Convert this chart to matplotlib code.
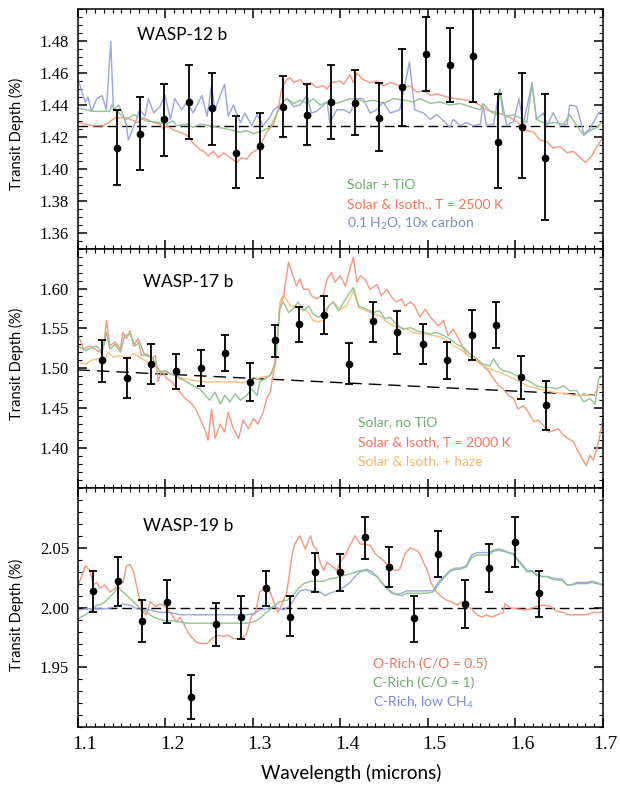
import numpy as np
import matplotlib
matplotlib.use("Agg")
import matplotlib.pyplot as plt
from matplotlib.ticker import MultipleLocator, FormatStrFormatter
from matplotlib.transforms import ScaledTranslation

SANS  = "Lato"
SERIF = "Liberation Serif"
plt.rcParams["font.family"] = SERIF          # números de los ejes en serif
plt.rcParams["mathtext.default"] = "regular"

# ── Datos: WASP-12 b ──────────────────────────────────────────────────────────
w12_x   = [1.145, 1.171, 1.199, 1.227, 1.253, 1.281, 1.308, 1.335, 1.362, 1.390,
           1.417, 1.444, 1.471, 1.498, 1.525, 1.552, 1.580, 1.607, 1.634]
w12_y   = [1.413, 1.422, 1.431, 1.442, 1.438, 1.410, 1.414, 1.439, 1.434, 1.442,
           1.441, 1.432, 1.451, 1.472, 1.465, 1.471, 1.417, 1.426, 1.407]
w12_top = [1.437, 1.445, 1.453, 1.465, 1.460, 1.433, 1.435, 1.458, 1.453, 1.465,
           1.462, 1.454, 1.475, 1.495, 1.488, 1.500, 1.447, 1.460, 1.447]
w12_bot = [1.390, 1.399, 1.408, 1.419, 1.415, 1.388, 1.394, 1.420, 1.415, 1.419,
           1.421, 1.411, 1.427, 1.449, 1.442, 1.442, 1.388, 1.394, 1.368]
w12_flat = 1.427

w12_tio = [(1.101, 1.438), (1.118, 1.436), (1.137, 1.436), (1.139, 1.440), (1.149, 1.434),
           (1.156, 1.431), (1.164, 1.434), (1.179, 1.430), (1.194, 1.429), (1.202, 1.428),
           (1.209, 1.430), (1.213, 1.427), (1.225, 1.428), (1.232, 1.426), (1.240, 1.428),
           (1.251, 1.427), (1.270, 1.425), (1.286, 1.423), (1.293, 1.424), (1.301, 1.422),
           (1.312, 1.424), (1.320, 1.426), (1.328, 1.435), (1.335, 1.442), (1.339, 1.444),
           (1.347, 1.441), (1.354, 1.443), (1.362, 1.441), (1.369, 1.444), (1.377, 1.440),
           (1.385, 1.442), (1.396, 1.441), (1.411, 1.444), (1.423, 1.443), (1.426, 1.442),
           (1.438, 1.443), (1.449, 1.441), (1.461, 1.444), (1.472, 1.443), (1.484, 1.442),
           (1.491, 1.444), (1.503, 1.441), (1.514, 1.442), (1.525, 1.440), (1.537, 1.441),
           (1.548, 1.439), (1.560, 1.437), (1.563, 1.441), (1.571, 1.436), (1.579, 1.434),
           (1.582, 1.449), (1.586, 1.434), (1.590, 1.433), (1.598, 1.434), (1.605, 1.432),
           (1.613, 1.429), (1.619, 1.453), (1.624, 1.431), (1.636, 1.428), (1.643, 1.429),
           (1.655, 1.428), (1.662, 1.434), (1.670, 1.427), (1.678, 1.421), (1.685, 1.424),
           (1.693, 1.426), (1.700, 1.430)]

w12_iso = [(1.100, 1.429), (1.118, 1.427), (1.130, 1.427), (1.143, 1.432), (1.156, 1.432),
           (1.169, 1.429), (1.175, 1.432), (1.187, 1.429), (1.194, 1.428), (1.198, 1.425),
           (1.202, 1.427), (1.211, 1.424), (1.217, 1.423), (1.225, 1.421), (1.232, 1.416),
           (1.240, 1.412), (1.244, 1.411), (1.249, 1.408), (1.255, 1.411), (1.261, 1.407),
           (1.267, 1.410), (1.272, 1.408), (1.282, 1.404), (1.287, 1.407), (1.293, 1.406),
           (1.299, 1.410), (1.305, 1.412), (1.310, 1.416), (1.316, 1.423), (1.324, 1.428),
           (1.329, 1.437), (1.333, 1.450), (1.339, 1.456), (1.343, 1.457), (1.347, 1.454),
           (1.354, 1.456), (1.360, 1.452), (1.366, 1.454), (1.373, 1.451), (1.381, 1.452),
           (1.385, 1.450), (1.390, 1.454), (1.400, 1.455), (1.404, 1.453), (1.411, 1.459),
           (1.415, 1.454), (1.419, 1.460), (1.426, 1.456), (1.434, 1.454), (1.442, 1.455),
           (1.449, 1.452), (1.457, 1.454), (1.464, 1.453), (1.472, 1.451), (1.480, 1.452),
           (1.487, 1.448), (1.495, 1.449), (1.503, 1.446), (1.510, 1.447), (1.522, 1.445),
           (1.533, 1.444), (1.544, 1.443), (1.556, 1.441), (1.567, 1.437), (1.579, 1.435),
           (1.586, 1.434), (1.598, 1.431), (1.605, 1.428), (1.613, 1.424), (1.621, 1.423),
           (1.628, 1.418), (1.636, 1.417), (1.643, 1.413), (1.651, 1.414), (1.659, 1.410),
           (1.666, 1.411), (1.674, 1.407), (1.680, 1.404), (1.687, 1.408), (1.693, 1.414),
           (1.700, 1.420)]

w12_carb = [(1.101, 1.456), (1.105, 1.448), (1.109, 1.442), (1.112, 1.445), (1.116, 1.436),
            (1.122, 1.444), (1.128, 1.446), (1.133, 1.437), (1.138, 1.480), (1.141, 1.437),
            (1.147, 1.440), (1.152, 1.434), (1.156, 1.427), (1.158, 1.418), (1.166, 1.429),
            (1.171, 1.437), (1.177, 1.433), (1.181, 1.444), (1.187, 1.435), (1.194, 1.439),
            (1.200, 1.446), (1.206, 1.431), (1.211, 1.444), (1.219, 1.437), (1.225, 1.442),
            (1.232, 1.435), (1.242, 1.446), (1.248, 1.433), (1.253, 1.452), (1.257, 1.437),
            (1.263, 1.446), (1.268, 1.453), (1.272, 1.433), (1.278, 1.440), (1.286, 1.429),
            (1.291, 1.435), (1.299, 1.427), (1.305, 1.434), (1.312, 1.427), (1.320, 1.433),
            (1.324, 1.437), (1.331, 1.440), (1.339, 1.444), (1.347, 1.439), (1.354, 1.440),
            (1.362, 1.446), (1.367, 1.435), (1.373, 1.436), (1.381, 1.440), (1.385, 1.442),
            (1.388, 1.429), (1.396, 1.437), (1.404, 1.437), (1.411, 1.435), (1.419, 1.444),
            (1.426, 1.444), (1.434, 1.435), (1.442, 1.437), (1.449, 1.442), (1.457, 1.435),
            (1.468, 1.437), (1.479, 1.467), (1.485, 1.437), (1.495, 1.435), (1.503, 1.431),
            (1.510, 1.434), (1.520, 1.429), (1.525, 1.426), (1.529, 1.431), (1.537, 1.427),
            (1.544, 1.429), (1.552, 1.427), (1.560, 1.428), (1.563, 1.440), (1.567, 1.427),
            (1.575, 1.428), (1.582, 1.450), (1.590, 1.427), (1.598, 1.430), (1.604, 1.444),
            (1.609, 1.428), (1.619, 1.454), (1.624, 1.431), (1.632, 1.435), (1.636, 1.427),
            (1.643, 1.435), (1.651, 1.427), (1.659, 1.428), (1.662, 1.440), (1.670, 1.439),
            (1.678, 1.422), (1.685, 1.425), (1.695, 1.435), (1.700, 1.437)]

# ── Datos: WASP-17 b ──────────────────────────────────────────────────────────
w17_x   = [1.128, 1.156, 1.184, 1.213, 1.241, 1.268, 1.297, 1.325, 1.353, 1.382,
           1.410, 1.437, 1.465, 1.494, 1.522, 1.550, 1.578, 1.606, 1.635]
w17_y   = [1.510, 1.488, 1.505, 1.496, 1.500, 1.519, 1.483, 1.535, 1.555, 1.567,
           1.505, 1.559, 1.545, 1.530, 1.510, 1.542, 1.554, 1.489, 1.454]
w17_top = [1.535, 1.513, 1.530, 1.518, 1.523, 1.542, 1.507, 1.554, 1.577, 1.591,
           1.532, 1.583, 1.572, 1.555, 1.533, 1.573, 1.583, 1.516, 1.484]
w17_bot = [1.483, 1.463, 1.480, 1.474, 1.478, 1.496, 1.459, 1.514, 1.533, 1.543,
           1.480, 1.533, 1.518, 1.505, 1.487, 1.510, 1.525, 1.461, 1.423]
w17_line_x = [1.10, 1.70]
w17_line_y = [1.498, 1.466]

w17_notio = [(1.101, 1.528), (1.109, 1.522), (1.116, 1.526), (1.122, 1.528), (1.128, 1.520),
             (1.133, 1.545), (1.137, 1.524), (1.143, 1.530), (1.149, 1.520), (1.154, 1.541),
             (1.160, 1.543), (1.166, 1.528), (1.171, 1.533), (1.177, 1.516), (1.185, 1.514),
             (1.190, 1.505), (1.194, 1.495), (1.200, 1.497), (1.206, 1.493), (1.211, 1.491),
             (1.217, 1.487), (1.225, 1.483), (1.232, 1.478), (1.240, 1.474), (1.246, 1.466),
             (1.251, 1.460), (1.257, 1.470), (1.263, 1.455), (1.268, 1.466), (1.274, 1.458),
             (1.280, 1.468), (1.286, 1.460), (1.293, 1.466), (1.299, 1.474), (1.305, 1.466),
             (1.308, 1.483), (1.314, 1.487), (1.320, 1.491), (1.326, 1.508), (1.331, 1.574),
             (1.335, 1.583), (1.341, 1.570), (1.346, 1.574), (1.352, 1.583), (1.358, 1.572),
             (1.364, 1.578), (1.369, 1.568), (1.375, 1.564), (1.381, 1.570), (1.387, 1.578),
             (1.392, 1.583), (1.398, 1.572), (1.404, 1.583), (1.411, 1.595), (1.415, 1.601),
             (1.421, 1.578), (1.430, 1.574), (1.438, 1.570), (1.445, 1.572), (1.451, 1.562),
             (1.457, 1.564), (1.464, 1.555), (1.472, 1.549), (1.480, 1.551), (1.487, 1.547),
             (1.495, 1.545), (1.503, 1.543), (1.510, 1.545), (1.518, 1.541), (1.525, 1.537),
             (1.533, 1.530), (1.541, 1.526), (1.548, 1.518), (1.556, 1.512), (1.563, 1.505),
             (1.571, 1.503), (1.575, 1.512), (1.581, 1.501), (1.586, 1.497), (1.594, 1.495),
             (1.601, 1.491), (1.609, 1.487), (1.617, 1.483), (1.624, 1.478), (1.632, 1.476),
             (1.640, 1.476), (1.647, 1.474), (1.655, 1.478), (1.662, 1.472), (1.670, 1.472),
             (1.678, 1.458), (1.685, 1.462), (1.691, 1.455), (1.695, 1.487), (1.700, 1.491)]

w17_iso = [(1.101, 1.541), (1.107, 1.524), (1.114, 1.528), (1.120, 1.524), (1.126, 1.520),
           (1.130, 1.528), (1.133, 1.560), (1.137, 1.528), (1.143, 1.533), (1.149, 1.524),
           (1.152, 1.545), (1.156, 1.537), (1.160, 1.547), (1.164, 1.528), (1.169, 1.537),
           (1.173, 1.516), (1.179, 1.518), (1.185, 1.512), (1.189, 1.516), (1.192, 1.483),
           (1.196, 1.497), (1.202, 1.487), (1.208, 1.483), (1.211, 1.478), (1.217, 1.470),
           (1.223, 1.462), (1.228, 1.458), (1.234, 1.451), (1.240, 1.437), (1.246, 1.422),
           (1.249, 1.410), (1.253, 1.449), (1.257, 1.412), (1.263, 1.430), (1.268, 1.420),
           (1.272, 1.445), (1.278, 1.424), (1.284, 1.412), (1.289, 1.435), (1.295, 1.424),
           (1.301, 1.437), (1.306, 1.430), (1.312, 1.445), (1.316, 1.462), (1.320, 1.470),
           (1.324, 1.495), (1.327, 1.520), (1.331, 1.578), (1.335, 1.589), (1.341, 1.633),
           (1.346, 1.616), (1.350, 1.603), (1.354, 1.612), (1.358, 1.599), (1.364, 1.599),
           (1.367, 1.591), (1.373, 1.587), (1.381, 1.593), (1.385, 1.612), (1.390, 1.620),
           (1.394, 1.608), (1.400, 1.616), (1.406, 1.603), (1.411, 1.624), (1.415, 1.639),
           (1.419, 1.608), (1.423, 1.616), (1.428, 1.612), (1.434, 1.599), (1.442, 1.605),
           (1.447, 1.591), (1.453, 1.599), (1.459, 1.589), (1.464, 1.583), (1.470, 1.587),
           (1.474, 1.578), (1.480, 1.583), (1.485, 1.578), (1.491, 1.564), (1.497, 1.574),
           (1.503, 1.564), (1.508, 1.558), (1.512, 1.553), (1.518, 1.560), (1.523, 1.541),
           (1.529, 1.549), (1.535, 1.537), (1.541, 1.524), (1.546, 1.516), (1.552, 1.512),
           (1.558, 1.508), (1.563, 1.503), (1.569, 1.497), (1.575, 1.487), (1.581, 1.478),
           (1.586, 1.474), (1.592, 1.466), (1.598, 1.462), (1.603, 1.449), (1.609, 1.453),
           (1.615, 1.445), (1.621, 1.433), (1.626, 1.435), (1.632, 1.428), (1.638, 1.420),
           (1.643, 1.422), (1.649, 1.424), (1.655, 1.416), (1.660, 1.412), (1.666, 1.408),
           (1.672, 1.395), (1.678, 1.383), (1.681, 1.378), (1.685, 1.391), (1.689, 1.385),
           (1.695, 1.408), (1.700, 1.437)]

w17_haze = [(1.101, 1.508), (1.109, 1.505), (1.116, 1.510), (1.124, 1.512), (1.130, 1.508),
            (1.135, 1.520), (1.141, 1.514), (1.149, 1.516), (1.156, 1.512), (1.164, 1.518),
            (1.171, 1.514), (1.179, 1.508), (1.187, 1.503), (1.194, 1.497), (1.202, 1.495),
            (1.211, 1.491), (1.221, 1.487), (1.232, 1.485), (1.244, 1.483), (1.255, 1.483),
            (1.267, 1.483), (1.278, 1.483), (1.289, 1.482), (1.297, 1.485), (1.305, 1.487),
            (1.312, 1.489), (1.320, 1.491), (1.326, 1.503), (1.331, 1.583), (1.335, 1.593),
            (1.343, 1.578), (1.348, 1.578), (1.354, 1.574), (1.362, 1.572), (1.369, 1.560),
            (1.375, 1.558), (1.381, 1.560), (1.387, 1.578), (1.392, 1.583), (1.400, 1.574),
            (1.407, 1.578), (1.415, 1.597), (1.421, 1.576), (1.430, 1.572), (1.438, 1.568),
            (1.445, 1.566), (1.453, 1.558), (1.461, 1.553), (1.468, 1.551), (1.476, 1.549),
            (1.483, 1.545), (1.491, 1.543), (1.499, 1.543), (1.506, 1.541), (1.514, 1.539),
            (1.522, 1.535), (1.529, 1.528), (1.537, 1.524), (1.544, 1.518), (1.552, 1.512),
            (1.560, 1.505), (1.567, 1.501), (1.575, 1.497), (1.582, 1.495), (1.590, 1.491),
            (1.598, 1.487), (1.605, 1.483), (1.613, 1.478), (1.621, 1.476), (1.628, 1.474),
            (1.636, 1.472), (1.643, 1.470), (1.651, 1.469), (1.659, 1.468), (1.666, 1.466),
            (1.674, 1.466), (1.681, 1.467), (1.689, 1.466), (1.695, 1.476), (1.700, 1.478)]

# ── Datos: WASP-19 b ──────────────────────────────────────────────────────────
w19_x   = [1.118, 1.146, 1.174, 1.202, 1.230, 1.258, 1.287, 1.315, 1.343, 1.371,
           1.400, 1.428, 1.456, 1.484, 1.512, 1.542, 1.570, 1.599, 1.627]
w19_y   = [2.014, 2.022, 1.989, 2.005, 1.925, 1.986, 1.992, 2.016, 1.992, 2.030,
           2.030, 2.059, 2.034, 1.991, 2.045, 2.003, 2.033, 2.055, 2.012]
w19_top = [2.031, 2.042, 2.006, 2.023, 1.944, 2.004, 2.010, 2.031, 2.010, 2.046,
           2.045, 2.076, 2.051, 2.010, 2.064, 2.023, 2.053, 2.076, 2.031]
w19_bot = [1.996, 2.001, 1.971, 1.987, 1.907, 1.968, 1.974, 2.001, 1.976, 2.013,
           2.014, 2.041, 2.017, 1.971, 2.026, 1.983, 2.013, 2.034, 1.992]
w19_flat = 2.000

w19_orich = [(1.101, 2.019), (1.109, 2.035), (1.114, 2.031), (1.118, 2.019), (1.122, 2.021),
             (1.126, 2.016), (1.131, 2.019), (1.137, 2.013), (1.143, 2.016), (1.147, 2.021),
             (1.152, 2.021), (1.156, 2.035), (1.160, 2.036), (1.164, 2.030), (1.169, 2.013),
             (1.175, 1.996), (1.179, 1.994), (1.183, 2.005), (1.189, 2.001), (1.194, 2.003),
             (1.198, 2.002), (1.202, 1.999), (1.208, 1.994), (1.213, 1.988), (1.217, 1.992),
             (1.223, 1.984), (1.228, 1.977), (1.236, 1.971), (1.242, 1.970), (1.248, 1.970),
             (1.253, 1.974), (1.259, 1.977), (1.267, 1.976), (1.272, 1.977), (1.278, 1.974),
             (1.286, 1.974), (1.293, 1.978), (1.299, 1.994), (1.303, 1.995), (1.308, 2.013),
             (1.314, 2.017), (1.320, 2.013), (1.324, 2.005), (1.329, 1.996), (1.333, 2.002),
             (1.339, 2.013), (1.345, 2.044), (1.348, 2.053), (1.354, 2.060), (1.360, 2.049),
             (1.366, 2.060), (1.369, 2.052), (1.373, 2.049), (1.377, 2.038), (1.381, 2.031),
             (1.385, 2.038), (1.390, 2.035), (1.396, 2.031), (1.400, 2.038), (1.406, 2.044),
             (1.411, 2.052), (1.417, 2.060), (1.423, 2.053), (1.426, 2.053), (1.434, 2.052),
             (1.440, 2.045), (1.445, 2.042), (1.451, 2.038), (1.457, 2.033), (1.463, 2.031),
             (1.468, 2.032), (1.474, 2.045), (1.480, 2.050), (1.487, 2.048), (1.491, 2.045),
             (1.495, 2.038), (1.499, 2.032), (1.504, 2.020), (1.510, 2.013), (1.516, 2.009),
             (1.522, 2.006), (1.527, 2.005), (1.533, 2.002), (1.539, 2.005), (1.544, 2.001),
             (1.550, 1.999), (1.556, 1.994), (1.562, 1.992), (1.567, 1.994), (1.573, 1.992),
             (1.579, 1.994), (1.586, 1.996), (1.588, 2.003), (1.594, 2.000), (1.602, 1.999),
             (1.609, 1.998), (1.617, 1.999), (1.624, 2.001), (1.632, 2.002), (1.640, 2.001),
             (1.647, 1.997), (1.655, 1.996), (1.660, 1.994), (1.670, 1.994), (1.681, 1.994),
             (1.689, 1.996), (1.700, 1.996)]

w19_crich = [(1.101, 1.991), (1.109, 1.994), (1.116, 1.998), (1.122, 2.002), (1.128, 2.003),
             (1.133, 2.006), (1.141, 2.012), (1.147, 2.017), (1.152, 2.013), (1.158, 2.009),
             (1.164, 2.005), (1.171, 2.000), (1.179, 1.996), (1.187, 1.992), (1.194, 1.990),
             (1.202, 1.989), (1.209, 1.989), (1.217, 1.988), (1.225, 1.987), (1.232, 1.987),
             (1.248, 1.987), (1.263, 1.987), (1.278, 1.987), (1.293, 1.987), (1.301, 1.988),
             (1.308, 1.991), (1.316, 1.996), (1.324, 2.001), (1.331, 2.005), (1.339, 2.006),
             (1.346, 2.010), (1.352, 2.016), (1.358, 2.020), (1.366, 2.022), (1.373, 2.022),
             (1.381, 2.022), (1.388, 2.024), (1.396, 2.025), (1.404, 2.027), (1.411, 2.028),
             (1.419, 2.030), (1.423, 2.031), (1.430, 2.031), (1.436, 2.028), (1.442, 2.026),
             (1.447, 2.021), (1.453, 2.017), (1.459, 2.013), (1.464, 2.011), (1.470, 2.010),
             (1.476, 2.012), (1.483, 2.012), (1.491, 2.012), (1.499, 2.012), (1.506, 2.013),
             (1.510, 2.017), (1.514, 2.021), (1.520, 2.026), (1.525, 2.030), (1.531, 2.032),
             (1.537, 2.032), (1.544, 2.034), (1.550, 2.042), (1.556, 2.044), (1.563, 2.044),
             (1.569, 2.044), (1.575, 2.047), (1.581, 2.048), (1.586, 2.047), (1.592, 2.046),
             (1.598, 2.044), (1.603, 2.039), (1.609, 2.034), (1.613, 2.030), (1.619, 2.030),
             (1.624, 2.027), (1.630, 2.026), (1.636, 2.026), (1.641, 2.024), (1.647, 2.023),
             (1.653, 2.023), (1.659, 2.019), (1.664, 2.019), (1.670, 2.020), (1.676, 2.020),
             (1.681, 2.020), (1.687, 2.021), (1.693, 2.020), (1.700, 2.019)]

w19_lowch4 = [(1.101, 1.998), (1.110, 1.999), (1.122, 1.999), (1.133, 1.999), (1.145, 2.001),
              (1.152, 2.003), (1.160, 2.002), (1.168, 1.999), (1.175, 1.998), (1.183, 1.998),
              (1.194, 1.996), (1.206, 1.996), (1.217, 1.994), (1.232, 1.994), (1.248, 1.994),
              (1.263, 1.994), (1.278, 1.994), (1.293, 1.994), (1.301, 1.995), (1.308, 1.998),
              (1.316, 1.999), (1.324, 2.001), (1.331, 1.999), (1.335, 1.998), (1.343, 2.002),
              (1.348, 2.008), (1.354, 2.014), (1.360, 2.015), (1.366, 2.014), (1.371, 2.014),
              (1.377, 2.013), (1.383, 2.010), (1.388, 2.012), (1.396, 2.014), (1.404, 2.017),
              (1.411, 2.021), (1.417, 2.026), (1.423, 2.030), (1.430, 2.032), (1.436, 2.030),
              (1.442, 2.026), (1.447, 2.021), (1.453, 2.016), (1.459, 2.012), (1.464, 2.011),
              (1.470, 2.012), (1.476, 2.014), (1.483, 2.014), (1.491, 2.014), (1.499, 2.014),
              (1.506, 2.014), (1.510, 2.019), (1.514, 2.023), (1.520, 2.027), (1.525, 2.031),
              (1.531, 2.033), (1.537, 2.033), (1.544, 2.035), (1.550, 2.044), (1.556, 2.046),
              (1.563, 2.046), (1.569, 2.046), (1.575, 2.048), (1.581, 2.049), (1.586, 2.048),
              (1.592, 2.046), (1.598, 2.045), (1.603, 2.040), (1.609, 2.035), (1.613, 2.031),
              (1.619, 2.031), (1.624, 2.028), (1.630, 2.026), (1.636, 2.026), (1.641, 2.025),
              (1.647, 2.024), (1.653, 2.024), (1.659, 2.019), (1.664, 2.019), (1.670, 2.021),
              (1.676, 2.021), (1.681, 2.021), (1.687, 2.022), (1.693, 2.021), (1.700, 2.019)]

# ── Ejes y etiquetas ──────────────────────────────────────────────────────────
x_ticks   = [1.1, 1.2, 1.3, 1.4, 1.5, 1.6, 1.7]
w12_ticks = [1.36, 1.38, 1.40, 1.42, 1.44, 1.46, 1.48]
w17_ticks = [1.40, 1.45, 1.50, 1.55, 1.60]
w19_ticks = [1.95, 2.00, 2.05]

# ── Paleta ────────────────────────────────────────────────────────────────────
C_GREEN  = "#8fc38f"
C_RED    = "#f8967c"
C_BLUE   = "#99a4e0"
C_ORANGE = "#fcc07f"
T_GREEN  = "#69ad69"
T_RED    = "#f4735a"
T_BLUE   = "#7b8ad0"
T_ORANGE = "#fbb266"
LW = 1.0


def curva(ax, pares, color):
    xs, ys = np.array(pares).T
    ax.plot(xs, ys, color=color, lw=LW)


def puntos(ax, x, y, top, bot):
    y = np.array(y)
    yerr = [y - np.array(bot), np.array(top) - y]
    ax.errorbar(x, y, yerr=yerr, fmt="o", color="black", ms=4.5,
                elinewidth=1.3, capsize=3, capthick=1.3, zorder=5)


def leyenda(ax, x0, filas):
    for (texto, color, yy) in filas:
        ax.text(x0, yy, texto, color=color, family=SANS, fontsize=10,
                transform=ax.transAxes, va="center", ha="left")


fig, axes = plt.subplots(3, 1, figsize=(6.2, 7.86), dpi=100, sharex=True,
                         gridspec_kw=dict(hspace=0))
fig.subplots_adjust(left=0.125, right=0.9726, top=0.9882, bottom=0.0747)
ax1, ax2, ax3 = axes

# Panel 1: WASP-12 b
ax1.axhline(w12_flat, color="black", lw=1.0, dashes=(7, 3.5), zorder=1)
curva(ax1, w12_carb, C_BLUE)
curva(ax1, w12_iso, C_RED)
curva(ax1, w12_tio, C_GREEN)
puntos(ax1, w12_x, w12_y, w12_top, w12_bot)
ax1.set_ylim(1.35, 1.50)
ax1.set_yticks(w12_ticks)
ax1.yaxis.set_minor_locator(MultipleLocator(0.005))
ax1.text(0.113, 0.892, "WASP-12 b", transform=ax1.transAxes, family=SANS,
         fontsize=12.5, va="center")
leyenda(ax1, 0.513, [("Solar + TiO", T_GREEN, 0.264),
                     ("Solar & Isoth., T = 2500 K", T_RED, 0.184),
                     ("0.1 H$_2$O, 10x carbon", T_BLUE, 0.101)])

# Panel 2: WASP-17 b
ax2.plot(w17_line_x, w17_line_y, color="black", lw=1.0, dashes=(9, 5), zorder=1)
curva(ax2, w17_iso, C_RED)
curva(ax2, w17_haze, C_ORANGE)
curva(ax2, w17_notio, C_GREEN)
puntos(ax2, w17_x, w17_y, w17_top, w17_bot)
ax2.set_ylim(1.35, 1.65)
ax2.set_yticks(w17_ticks)
ax2.yaxis.set_minor_locator(MultipleLocator(0.01))
ax2.text(0.124, 0.860, "WASP-17 b", transform=ax2.transAxes, family=SANS,
         fontsize=12.5, va="center")
leyenda(ax2, 0.534, [("Solar, no TiO", T_GREEN, 0.274),
                     ("Solar & Isoth, T = 2000 K", T_RED, 0.191),
                     ("Solar & Isoth. + haze", T_ORANGE, 0.107)])

# Panel 3: WASP-19 b
ax3.axhline(w19_flat, color="black", lw=1.0, dashes=(7, 3.5), zorder=1)
curva(ax3, w19_orich, C_RED)
curva(ax3, w19_lowch4, C_BLUE)
curva(ax3, w19_crich, C_GREEN)
puntos(ax3, w19_x, w19_y, w19_top, w19_bot)
ax3.set_ylim(1.90, 2.10)
ax3.set_yticks(w19_ticks)
ax3.yaxis.set_minor_locator(MultipleLocator(0.01))
ax3.text(0.124, 0.842, "WASP-19 b", transform=ax3.transAxes, family=SANS,
         fontsize=12.5, va="center")
leyenda(ax3, 0.563, [("O-Rich (C/O = 0.5)", T_RED, 0.264),
                     ("C-Rich (C/O = 1)", T_GREEN, 0.185),
                     ("C-Rich, low CH$_4$", T_BLUE, 0.102)])

ax3.set_xlim(1.1, 1.7)
ax3.set_xticks(x_ticks)
ax3.xaxis.set_minor_locator(MultipleLocator(0.01))
ax3.xaxis.set_major_formatter(FormatStrFormatter("%.1f"))
ax3.set_xlabel("Wavelength (microns)", family=SANS, fontsize=13.5)
ax3.xaxis.set_label_coords(0.52, -0.155)

for ax, yc in zip(axes, [0.48, 0.52, 0.47]):
    ax.yaxis.set_major_formatter(FormatStrFormatter("%.2f"))
    ax.tick_params(which="both", direction="in", top=True, right=True)
    ax.tick_params(which="major", length=6.5, width=1.1)
    ax.tick_params(which="minor", length=3.2, width=0.8)
    ax.tick_params(axis="y", labelsize=12, pad=6)
    ax.tick_params(axis="x", labelsize=14, pad=6)
    for sp in ax.spines.values():
        sp.set_linewidth(1.1)
    ax.set_ylabel("Transit Depth (%)", family=SANS, fontsize=10.5)
    ax.yaxis.set_label_coords(-0.102, yc)

# las etiquetas del eje x van algo desplazadas a la derecha en el original
labs = ax3.get_xticklabels()
for lab in labs[:-1]:
    lab.set_transform(lab.get_transform() +
                      ScaledTranslation(7 / 100, 0, fig.dpi_scale_trans))
labs[-1].set_transform(labs[-1].get_transform() +
                       ScaledTranslation(2 / 100, 0, fig.dpi_scale_trans))

fig.savefig("out.png", dpi=100)
